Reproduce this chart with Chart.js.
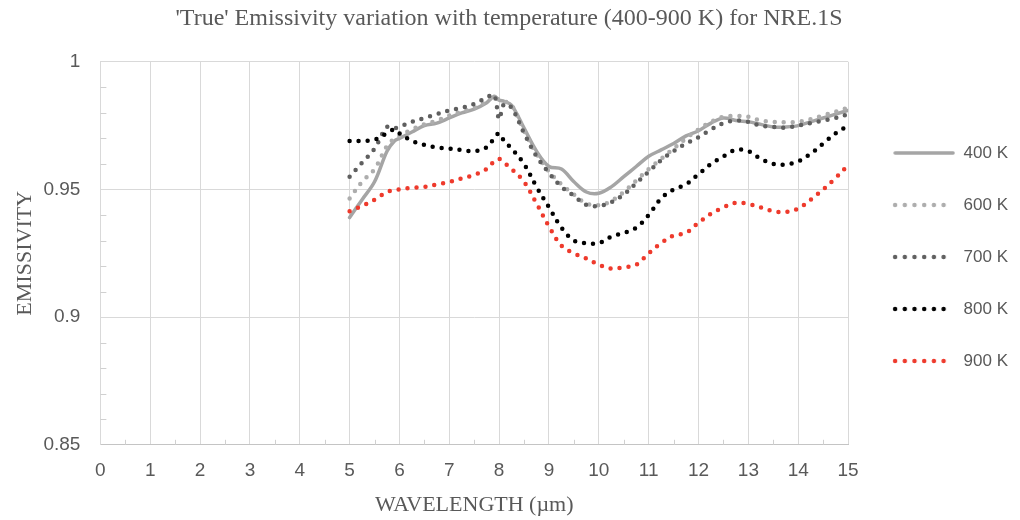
<!DOCTYPE html>
<html>
<head>
<meta charset="utf-8">
<script src="https://cdn.jsdelivr.net/npm/chart.js@4"></script>
<style>
  html, body { margin: 0; padding: 0; background: #fff; }
  #wrap { width: 1020px; height: 520px; }
</style>
</head>
<body>
<div id="wrap"><canvas id="chart"></canvas></div>
<script>
const wavelength = [5, 5.25, 5.5, 5.75, 5.9, 6, 6.25, 6.5, 6.75, 7, 7.25, 7.5, 7.75, 7.9, 8, 8.1, 8.25, 8.5, 8.75, 9,
  9.25, 9.5, 9.75, 10, 10.25, 10.5, 10.75, 11, 11.25, 11.5, 11.75, 12, 12.25, 12.5, 12.75, 13, 13.25, 13.5, 13.75, 14,
  14.25, 14.5, 14.75, 15];

const e400 = [0.939, 0.946, 0.953, 0.965, 0.969, 0.970, 0.9725, 0.975, 0.976, 0.978, 0.980, 0.9815, 0.984, 0.9865, 0.985, 0.9845, 0.983, 0.974, 0.965, 0.959,
  0.958, 0.953, 0.949, 0.9485, 0.951, 0.955, 0.959, 0.963, 0.9655, 0.968, 0.971, 0.973, 0.976, 0.978, 0.977, 0.9765, 0.9755, 0.9745, 0.9745, 0.975,
  0.9765, 0.978, 0.9795, 0.981];
const e600 = [0.9465, 0.953, 0.958, 0.967, 0.970, 0.971, 0.9735, 0.9755, 0.977, 0.979, 0.9805, 0.982, 0.9845, 0.9865, 0.985, 0.9845, 0.983, 0.973, 0.964, 0.957,
  0.952, 0.948, 0.9445, 0.9438, 0.9455, 0.949, 0.9535, 0.958, 0.962, 0.966, 0.970, 0.9735, 0.9765, 0.9785, 0.9788, 0.9785, 0.977, 0.9765, 0.9763, 0.9765,
  0.9775, 0.979, 0.9805, 0.982];
const e700 = [0.955, 0.9605, 0.966, 0.9745, 0.974, 0.9745, 0.9765, 0.978, 0.9795, 0.981, 0.982, 0.9835, 0.986, 0.987, 0.9775, 0.9835, 0.982, 0.972, 0.963, 0.9565,
  0.951, 0.9475, 0.944, 0.9435, 0.945, 0.948, 0.9525, 0.957, 0.9615, 0.965, 0.968, 0.9705, 0.9735, 0.976, 0.977, 0.9765, 0.975, 0.9745, 0.9742, 0.975,
  0.976, 0.977, 0.978, 0.9795];
const e800 = [0.969, 0.969, 0.9695, 0.972, 0.9735, 0.972, 0.969, 0.9675, 0.9665, 0.966, 0.9655, 0.965, 0.9665, 0.970, 0.972, 0.969, 0.966, 0.960, 0.951, 0.943,
  0.935, 0.930, 0.929, 0.929, 0.9315, 0.933, 0.935, 0.940, 0.9465, 0.950, 0.952, 0.956, 0.960, 0.963, 0.9655, 0.965, 0.962, 0.960, 0.9598, 0.961,
  0.964, 0.968, 0.972, 0.975];
const e900 = [0.9415, 0.9435, 0.946, 0.949, 0.9497, 0.950, 0.9507, 0.951, 0.952, 0.953, 0.9543, 0.9557, 0.958, 0.961, 0.962, 0.9605, 0.958, 0.953, 0.9445, 0.9355,
  0.928, 0.925, 0.923, 0.9205, 0.919, 0.9195, 0.9205, 0.925, 0.929, 0.932, 0.933, 0.937, 0.9405, 0.943, 0.9448, 0.9443, 0.943, 0.9415, 0.9412, 0.9425,
  0.946, 0.950, 0.9545, 0.9595];

const seriesLabels = ["400 K", "600 K", "700 K", "800 K", "900 K"];
const seriesValues = [e400, e600, e700, e800, e900];
const seriesColors = ["#A5A5A5", "#ADADAD", "#5F5F5F", "#000000", "#EE3A2C"];
const xTicks = [0, 1, 2, 3, 4, 5, 6, 7, 8, 9, 10, 11, 12, 13, 14, 15];
const yTicks = [0.85, 0.9, 0.95, 1];

const tickFont = { family: "'Liberation Sans', sans-serif", size: 19 };
const legendFont = { family: "'Liberation Sans', sans-serif", size: 17 };
const serifFont = { family: "'Liberation Serif', serif", size: 22 };
const textColor = "#595959";

// small canvas used as the legend symbol, so the dots show in the legend too
function legendSwatch(color, solid) {
  const c = document.createElement("canvas");
  c.width = 72;
  c.height = 8;
  const g = c.getContext("2d");
  g.strokeStyle = color;
  g.lineCap = "round";
  g.lineWidth = solid ? 3.5 : 4.5;
  if (!solid) g.setLineDash([0, 9.7]);
  g.beginPath();
  g.moveTo(12, 4);
  g.lineTo(70, 4);
  g.stroke();
  return c;
}

const datasets = seriesLabels.map((label, i) => {
  const solid = i === 0;
  return {
    label: label,
    data: wavelength.map((w, j) => ({ x: w, y: seriesValues[i][j] })),
    borderColor: seriesColors[i],
    backgroundColor: seriesColors[i],
    borderWidth: solid ? 3.5 : 4.5,
    borderDash: solid ? [] : [0, 9],
    borderCapStyle: "round",
    borderJoinStyle: "round",
    pointRadius: 0,
    pointHoverRadius: 0,
    pointStyle: legendSwatch(seriesColors[i], solid),
    tension: 0.35,
    fill: false,
    order: seriesLabels.length - i,
  };
});

const minorTicks = {
  id: "minorTicks",
  beforeDatasetsDraw(chart) {
    const { ctx, scales } = chart;
    const x = scales.x;
    const y = scales.y;
    ctx.save();
    ctx.strokeStyle = "#D0D0D0";
    ctx.lineWidth = 1;
    ctx.beginPath();
    for (let k = 0; k < 15; k++) {
      const px = Math.round(x.getPixelForValue(k + 0.5)) + 0.5;
      ctx.moveTo(px, y.bottom);
      ctx.lineTo(px, y.bottom - 5);
    }
    for (let k = 86; k < 100; k++) {
      if (k % 5 === 0) continue;
      const py = Math.round(y.getPixelForValue(k / 100)) + 0.5;
      ctx.moveTo(x.left, py);
      ctx.lineTo(x.left + 6, py);
    }
    ctx.stroke();
    ctx.restore();
  },
};

new Chart(document.getElementById("chart"), {
  type: "line",
  data: { datasets: datasets },
  plugins: [minorTicks],
  options: {
    responsive: true,
    maintainAspectRatio: false,
    animation: false,
    layout: { padding: { left: 0, right: 2, top: 0, bottom: 6 } },
    plugins: {
      title: {
        display: true,
        text: "'True' Emissivity variation with temperature (400-900 K) for NRE.1S",
        color: textColor,
        font: { family: "'Liberation Serif', serif", size: 24, weight: "normal" },
        padding: { top: 4, bottom: 29 },
      },
      legend: {
        position: "right",
        align: "center",
        labels: {
          usePointStyle: true,
          pointStyleWidth: 72,
          padding: 35,
          color: textColor,
          font: legendFont,
          sort: (a, b) => a.datasetIndex - b.datasetIndex,
        },
      },
      tooltip: { enabled: false },
    },
    scales: {
      x: {
        type: "linear",
        min: 0,
        max: 15,
        afterBuildTicks: (s) => { s.ticks = xTicks.map((v) => ({ value: v })); },
        ticks: { color: textColor, font: tickFont, padding: 15, maxRotation: 0, autoSkip: false },
        grid: { color: "#D9D9D9", drawTicks: false },
        border: { color: "#C4C4C4" },
        title: {
          display: true,
          text: "WAVELENGTH (µm)",
          color: textColor,
          font: serifFont,
          padding: { top: -6, bottom: -4 },
        },
      },
      y: {
        min: 0.85,
        max: 1,
        afterBuildTicks: (s) => { s.ticks = yTicks.map((v) => ({ value: v })); },
        ticks: {
          color: textColor,
          font: tickFont,
          padding: 20,
          callback: (v) => String(+v.toFixed(2)),
        },
        grid: { color: "#D9D9D9", drawTicks: false },
        border: { color: "#D9D9D9" },
        title: {
          display: true,
          text: "EMISSIVITY",
          color: textColor,
          font: serifFont,
          padding: { top: 12, bottom: -15 },
        },
      },
    },
  },
});
</script>
</body>
</html>
